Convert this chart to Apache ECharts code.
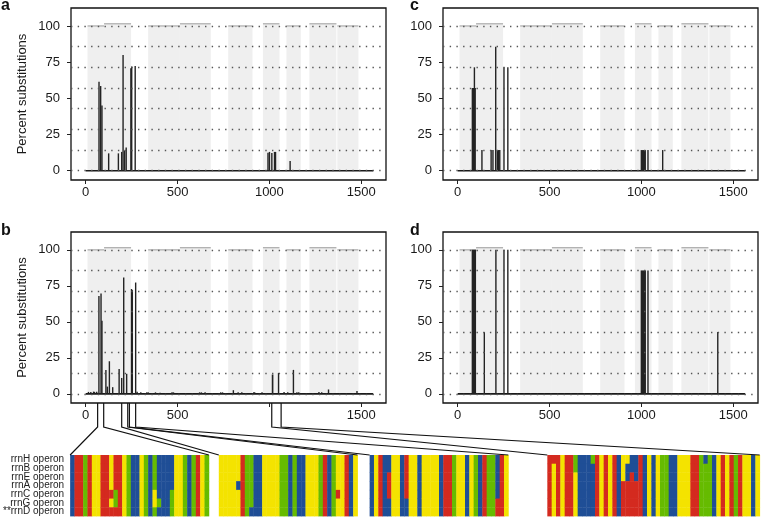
<!DOCTYPE html>
<html><head><meta charset="utf-8">
<script src="https://cdn.jsdelivr.net/npm/echarts@6/dist/echarts.min.js"></script>
<style>html,body{margin:0;padding:0;background:#fff}#c{width:761px;height:518px}</style>
</head><body><div id="c"></div>
<script>
// ---------- data ----------
const seqLength = 1565;
const xTicks = [0, 500, 1000, 1500];
const yTicks = [0, 25, 50, 75, 100];
const operonLevels = [0, 14.29, 28.57, 42.86, 57.14, 71.43, 85.71, 100];
const panelLetters = ['a', 'b', 'c', 'd'];

// secondary-structure domains: start, end, top level
const domainStart = [10, 100, 340, 513, 776, 965, 1093, 1218, 1370];
const domainEnd   = [100, 247, 513, 681, 908, 1055, 1171, 1365, 1485];
const domainTop   = [100, 101.5, 100, 101.5, 100, 101.5, 100, 101.5, 100];

// substitution peaks: [startPos, endPos, percent]
const peaksA = [[71,74,61.5],[80,83,58.5],[88,89,45],[125,125,12],[178,178,12],[196,196,13],[203,204,80],
  [212,212,14],[220,221,16],[245,247,70.7],[250,251,72],[269,270,72.3],
  [992,993,12.5],[1000,1001,13],[1013,1014,12.3],[1028,1028,13],[1033,1034,13],[1113,1113,6.7]];
const peaksB = [[15,15,1.3],[28,28,1.2],[43,43,1.5],[48,48,1.3],[60,60,1.5],
  [70,74,68],[82,85,69.7],[88,89,50.8],[110,110,16.6],[118,118,5],[129,129,22.6],[147,147,4.6],
  [182,182,17.3],[196,196,11],[207,207,80.8],[223,223,13.9],[249,250,72.8],[254,254,72],[272,272,77.3],
  [280,280,1.5],[300,300,1],[332,332,1],[340,340,1],[380,380,1],[405,405,0.8],[470,470,1],[478,478,1],
  [620,620,1],[630,630,1],[650,650,1],[735,735,1],[745,745,1],[804,804,2.5],[830,830,1],[850,850,1],
  [915,915,1],[920,920,1],[960,960,1],[1013,1022,13.4],[1050,1050,14.5],[1080,1080,1.2],[1100,1100,1],
  [1131,1131,16.6],[1150,1150,1],[1160,1160,1],[1270,1270,1.2],[1285,1285,1],[1322,1322,3],[1477,1477,2]];
const peaksC = [[76,99,57.14],[90,92,71.43],[132,132,14.29],[182,182,14.29],[192,192,14.29],[207,207,85.71],
  [216,216,14.29],[222,222,14.29],[229,229,14.29],[252,252,71.43],[273,273,71.43],
  [996,1025,14.29],[1036,1036,14.29],[1116,1116,14.29]];
const peaksD = [[76,100,100],[145,145,42.86],[208,208,100],[252,252,100],[273,273,100],
  [996,1025,85.71],[1036,1036,85.71],[1416,1416,42.86]];

// zoomed regions of panel b shown as alignment blocks
const zoomRegions = [[65,98],[196,229],[238,272],[1013,1064]];
const rowLabels = ['rrnH operon','rrnB operon','rrnE operon','rrnA operon','rrnC operon','rrnG operon','**rrnD operon'];
// each column: 7 bases top->bottom (R,Y,G,B colour codes)
const block1 = ["BBBBBBB","RRRRRRR","RRRRRRR","GGGGGGG","RRRRRRR","YYYYYYY","YYYYYYY","RRRRRRR","RRRRRRR","YYYYRYR",
  "RRRRGGR","RRRRRRR","YYYYYYY","GGGGGGG","BBBBBBB","BBBBBBB","YYYYYYY","GGGGGGG","BBBBBBB","GGGGYYG","BBBBBGB",
  "BBBBBBB","BBBBBBB","BBBBGGG","YYYYYYY","YYYYYYY","GGGGGGG","BBBBBBB","GGGGGGG","RRRRRRR","YYYYYYY","GGGGGGG"];
const block2 = ["YYYYYYY","YYYYYYY","YYYYYYY","YYYYYYY","YYYBYYY","RRRRRRR","GGGGGGG","GGGGGGB","BBBBBBB","BBBBBBB",
  "YYYYYYY","YYYYYYY","YYYYYYY","YYYYYYY","GGGGGGG","GGGGGGG","BBBBBBB","GGGGGGG","BBBBBBB","BBBBBBB","YYYYYYY",
  "YYYYYYY","YYYYYYY","GGGGGGG","RRRRRRR","BBBBBBB","GGGGGGG","YYYYRYY","YYYYYYY","RRRRRRR","BBBBBBB","YYYYYYY"];
const block3 = ["BBBBBBB","YYYYYYY","RRRRRRR","BBBBBBB","BBRRRBB","YYYYYYY","YYYYYYY","BBBBBBB","RRRRRBB","YYYYYYY",
  "YYYYYYY","BBBBBBB","YYYYYYY","YYYYYYY","YYYYYYY","YYYYYYY","BBBBBBB","RRRRRRR","RRRRRRR","GGGGGGG","YYYYYYY",
  "YYYYYYY","BBBBBBB","YYYYYYY","GGGGGGG","BBBBBBB","RRRRRRR","GGGGGGG","GGGGGGG","BBBBBRR","RRRRRRR","YYYYYYY"];
const block4 = ["RRRRRRR","RYYYYYY","RRRRRRR","YYYYYYY","RRRRRRR","RRRRRRR","GGYYYYY","BBBBBBB","BBBBBBB","BBBBBBB",
  "GBBBBBB","RRRRRRR","YYYYYYY","RRRRRRR","YYYYYYY","RRRRRRR","BBBBBBB","YYYRRRR","YBBRRRR","BBRRRRR","BBBRRRR",
  "RRRRRRR","BBBBBBB","YYYYYYY","BBBBBBB","YYYYYYY","GGGGGGG","GGGGGGG","BBBBBBB","BBBBBBB","YYYYYYY","YYYYYYY",
  "YYYYYYY","RRRRRRR","RRRRRRR","GGGGGGG","BGGGGGG","GGGGGGG","BBBBBBB","YYYYYYY","RRRRRRR","YYYYYYY","RRRRRRR",
  "GGGGGGG","RRRRRRR","YYYYYYY","YYYYYYY","BBBBBBB","YYYYYYY"];

// ---------- layout / style ----------
const blocks = [block1, block2, block3, block4];
const blockOffset = [0, 34.3, 69.1, 110.1];
const baseColor = {R:'#d42a1f', Y:'#f4e300', G:'#66bb00', B:'#1f4e96'};
const FONT = 'Liberation Sans, Arial, sans-serif';
const Y_MIN = -6.4, Y_MAX = 112.4, X_MIN = -80, X_MAX = 1635;
const grids = [
  {left:71, top:8, width:315, height:172},
  {left:71, top:232, width:315, height:171},
  {left:443, top:8, width:315, height:172},
  {left:443, top:232, width:315, height:171}
];
const HEAT = {left:69, top:455, width:692, height:61};
const panelPeaks = [peaksA, peaksB, peaksC, peaksD];
const letterPos = [[1, 13.5], [1, 238.5], [410, 13.5], [410, 238.5]];

const chart = echarts.init(document.getElementById('c'), null, {renderer:'canvas'});

const gridOpt = grids.map(g => Object.assign({show:true, borderColor:'#111', borderWidth:1.3, backgroundColor:'transparent', containLabel:false}, g));
gridOpt.push(Object.assign({show:false, containLabel:false}, HEAT));

const xAxes = [], yAxes = [], series = [];
grids.forEach((g, i) => {
  xAxes.push({
    type:'value', gridIndex:i, min:X_MIN, max:X_MAX, position:'bottom',
    axisLine:{show:false, onZero:false}, splitLine:{show:false},
    axisTick:{show:true, customValues:xTicks, length:4, lineStyle:{color:'#222', width:1}},
    axisLabel:{customValues:xTicks, margin:6, fontSize:13, color:'#1a1a1a', fontFamily:FONT,
      formatter: v => (i === 1 && v === 1000) ? '' : String(v)}
  });
  yAxes.push({
    type:'value', gridIndex:i, min:Y_MIN, max:Y_MAX, position:'left',
    name: (i < 2) ? 'Percent substitutions' : '', nameLocation:'middle', nameGap:42, nameRotate:90,
    nameTextStyle:{fontSize:13, color:'#1a1a1a', fontFamily:FONT},
    axisLine:{show:false, onZero:false}, splitLine:{show:false},
    axisTick:{show:true, customValues:yTicks, length:4, lineStyle:{color:'#222', width:1}},
    axisLabel:{customValues:yTicks, margin:11, fontSize:13, color:'#1a1a1a', fontFamily:FONT}
  });
  // domains
  series.push({
    type:'custom', xAxisIndex:i, yAxisIndex:i, z:1, silent:true,
    data: domainStart.map((s, k) => [s, domainEnd[k], domainTop[k]]),
    renderItem:(params, api) => {
      const p0 = api.coord([api.value(0), 0]);
      const p1 = api.coord([api.value(1), api.value(2)]);
      return {type:'group', children:[
        {type:'rect', shape:{x:p0[0], y:p1[1], width:p1[0]-p0[0], height:p0[1]-p1[1]}, style:{fill:'#efefef'}},
        {type:'line', shape:{x1:p0[0], y1:p1[1], x2:p1[0], y2:p1[1]}, style:{stroke:'#ababab', lineWidth:1.2}}
      ]};
    }
  });
  // dotted operon-fraction gridlines
  series.push({
    type:'line', xAxisIndex:i, yAxisIndex:i, z:2, data:[], silent:true,
    markLine:{silent:true, symbol:['none','none'], label:{show:false}, animation:false,
      lineStyle:{type:[1.4,5.3], color:'#555', width:1.4},
      data: operonLevels.map(v => ({yAxis:v}))}
  });
  // baseline
  series.push({
    type:'line', xAxisIndex:i, yAxisIndex:i, z:3, symbol:'none', silent:true,
    data:[[0,0],[seqLength,0]], lineStyle:{color:'#1a1a1a', width:1.7}
  });
  // peaks
  series.push({
    type:'custom', xAxisIndex:i, yAxisIndex:i, z:4, silent:true,
    data: panelPeaks[i],
    renderItem:(params, api) => {
      const p0 = api.coord([api.value(0), 0]);
      const p1 = api.coord([api.value(1), api.value(2)]);
      let x = p0[0], w = p1[0] - p0[0];
      if (w < 1.4) { x = (p0[0] + p1[0]) / 2 - 0.7; w = 1.4; }
      return {type:'rect', shape:{x:x, y:p1[1], width:w, height:p0[1]-p1[1]}, style:{fill:'#232323'}};
    }
  });
});

// alignment heat blocks
xAxes.push({type:'value', gridIndex:4, min:0, max:159.4, show:false});
yAxes.push({type:'category', gridIndex:4, data:rowLabels, inverse:true,
  axisLine:{show:false}, axisTick:{show:false}, splitLine:{show:false},
  axisLabel:{interval:0, margin:6, fontSize:10, lineHeight:9, color:'#222', fontFamily:FONT}});
const heatData = [];
blocks.forEach((cols, b) => {
  cols.forEach((col, c) => {
    for (let r = 0; r < 7; r++) heatData.push([blockOffset[b] + c, r, col[r]]);
  });
});
series.push({
  type:'custom', xAxisIndex:4, yAxisIndex:4, silent:true, data:heatData,
  renderItem:(params, api) => {
    const item = heatData[params.dataIndex];
    const p = api.coord([item[0], item[1]]);
    const sz = api.size([1, 1]);
    const p2 = api.coord([item[0] + 1, item[1]]);
    return {type:'rect', shape:{x:p[0], y:p[1]-sz[1]/2, width:p2[0]-p[0]+0.4, height:sz[1]+0.4},
      style:{fill:baseColor[item[2]]}};
  }
});

const panelText = panelLetters.map((t, i) => ({
  type:'text', silent:true, x:letterPos[i][0], y:letterPos[i][1],
  style:{text:t, font:'bold 16px ' + FONT, fill:'#111', textVerticalAlign:'bottom'}
}));

chart.setOption({
  animation:false,
  backgroundColor:'#fff',
  grid:gridOpt, xAxis:xAxes, yAxis:yAxes, series:series
});

// connectors from panel b to alignment blocks
const bBottom = chart.convertToPixel({yAxisIndex:1}, Y_MIN);
const elbowY = 427;
const conn = [];
zoomRegions.forEach((reg, b) => {
  const left = chart.convertToPixel({xAxisIndex:4}, blockOffset[b]);
  const right = chart.convertToPixel({xAxisIndex:4}, blockOffset[b] + blocks[b].length);
  [[reg[0], left], [reg[1], right]].forEach(([pos, bx]) => {
    const px = chart.convertToPixel({xAxisIndex:1}, pos);
    conn.push({type:'polyline', silent:true, z:10,
      shape:{points:[[px, bBottom], [px, elbowY], [Math.min(bx, 760), HEAT.top]]},
      style:{stroke:'#111', lineWidth:1.2, fill:null}});
  });
});
chart.setOption({graphic: panelText.concat(conn)});
</script></body></html>
